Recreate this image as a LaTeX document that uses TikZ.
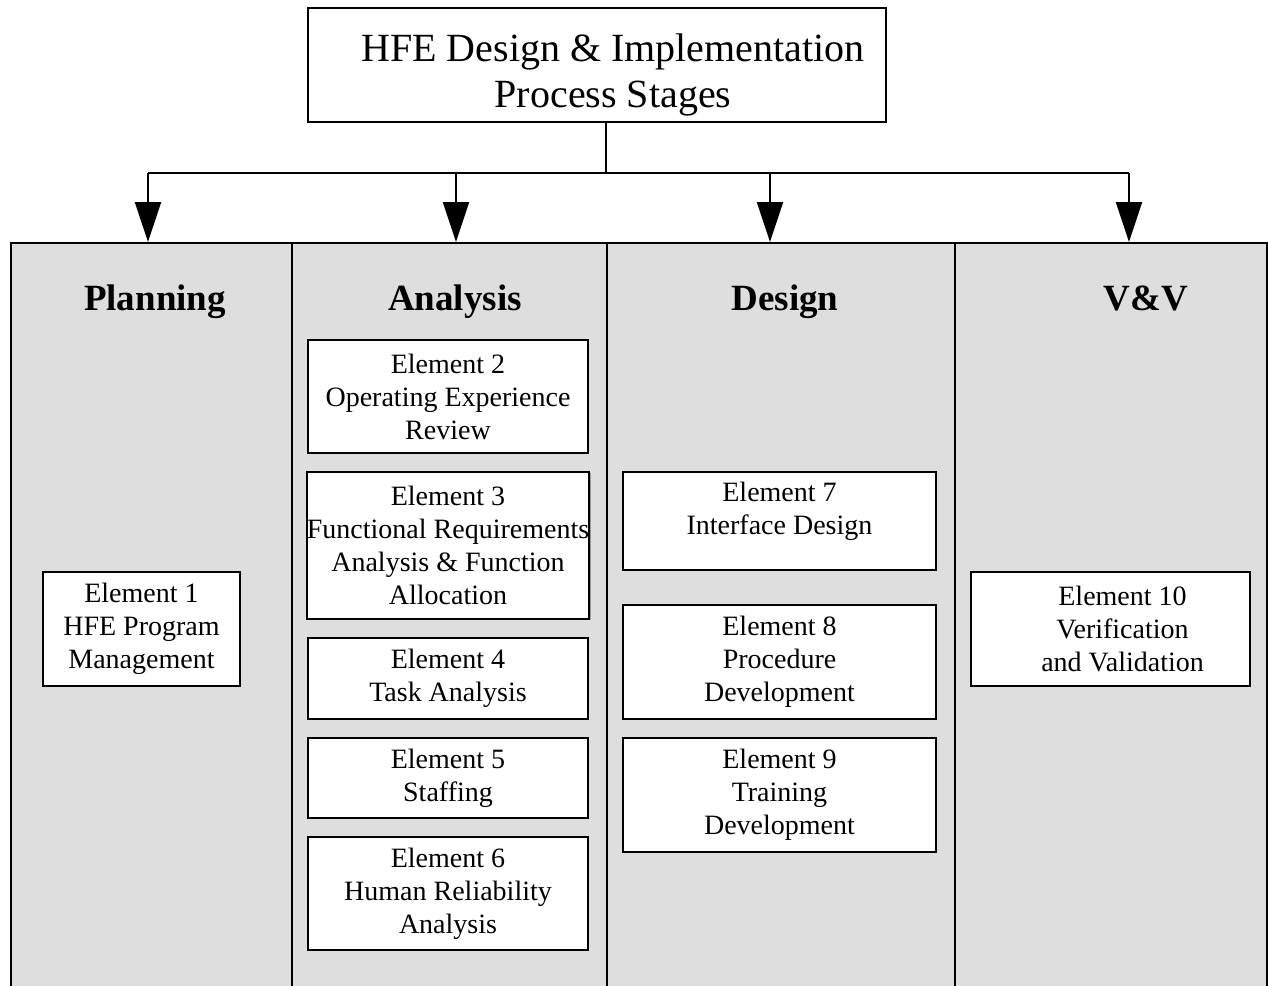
\documentclass[tikz,border=0pt]{standalone}
\usepackage{fontspec}
\setmainfont{Liberation Serif}
\usetikzlibrary{arrows.meta,shadows}
\tikzset{
	stage_col/.style = {draw=black, line width=1pt, fill=black!13, anchor=north west, inner sep=0pt, minimum height=384pt},
	stage_head/.style = {inner sep=0pt, anchor=base, font=\bfseries\fontsize{18.5pt}{22pt}\selectfont},
	elem_box/.style = {draw=black, line width=1.2pt, fill=white, align=center, inner sep=0pt, font=\fontsize{14pt}{16.5pt}\selectfont,
		drop shadow={shadow xshift=0.7pt, shadow yshift=-0.7pt, fill=black!40, opacity=1}},
	title_box/.style = {draw=black, line width=1pt, fill=white, align=center, inner sep=0pt, font=\fontsize{20pt}{23pt}\selectfont,
		minimum width=289pt, minimum height=57pt},
	bus_line/.style = {line width=1.1pt},
	flow_arr/.style = {bus_line, -{Triangle[width=13pt,length=20pt]}}
}

\begin{document}
\begin{tikzpicture}[x=0.5pt, y=-0.5pt]
	\useasboundingbox (0,0) rectangle (1268,985);

	\node [stage_col, minimum width=140.5pt] (plan) at (10,242) {};
	\node [stage_col, minimum width=157.5pt] (anal) at (291,242) {};
	\node [stage_col, minimum width=174pt] (desg) at (606,242) {};
	\node [stage_col, minimum width=156pt] (vv) at (954,242) {};

	\node [stage_head] (h_plan) at (155,310) {Planning};
	\node [stage_head] (h_anal) at (455,310) {Analysis};
	\node [stage_head] (h_desg) at (785,310) {Design};
	\node [stage_head] (h_vv) at (1146,310) {V\&V};

	\node [title_box] (top) at (597,65) {\rule{0pt}{23.5pt}\hspace*{16pt}HFE Design \& Implementation\\\hspace*{16pt}Process Stages};

	\coordinate (hub) at (606,173);
	\coordinate (a1) at (148,173);
	\coordinate (a2) at (456,173);
	\coordinate (a3) at (770,173);
	\coordinate (a4) at (1129,173);
	\draw [bus_line] (hub |- top.south) -- (hub);
	\draw [bus_line] (a1) -- (a4);
	\foreach \a/\c in {a1/plan, a2/anal, a3/desg, a4/vv}
		\draw [flow_arr] (\a) -- (\a |- \c.north);

	\node [elem_box, minimum width=98.5pt, minimum height=57pt] (e1) at (141.5,629) {Element 1\\HFE Program\\Management};

	\node [elem_box, minimum width=140pt, minimum height=56.5pt] (e2) at (448,396.5) {Element 2\\Operating Experience\\Review};
	\node [elem_box, minimum width=140pt, minimum height=73.5pt] (e3) at (448,545.5) {Element 3\\Functional Requirements\\Analysis \& Function\\Allocation};
	\node [elem_box, minimum width=140pt, minimum height=40.5pt] (e4) at (448,678.5) {Element 4\\Task Analysis};
	\node [elem_box, minimum width=140pt, minimum height=40pt] (e5) at (448,778) {Element 5\\Staffing};
	\node [elem_box, minimum width=140pt, minimum height=56.5pt] (e6) at (448,893.5) {Element 6\\Human Reliability\\Analysis};

	\node [elem_box, minimum width=156.5pt, minimum height=49pt] (e7) at (779.5,521) {Element 7\\Interface Design\rule[-13pt]{0pt}{0pt}};
	\node [elem_box, minimum width=156.5pt, minimum height=57pt] (e8) at (779.5,662) {Element 8\\Procedure\\Development};
	\node [elem_box, minimum width=156.5pt, minimum height=57pt] (e9) at (779.5,795) {Element 9\\Training\\Development};

	\node [elem_box, minimum width=139.5pt, minimum height=57pt] (e10) at (1110.5,629) {\hspace*{12pt}Element 10\\\hspace*{12pt}Verification\\\hspace*{12pt}and Validation};
\end{tikzpicture}
\end{document}
